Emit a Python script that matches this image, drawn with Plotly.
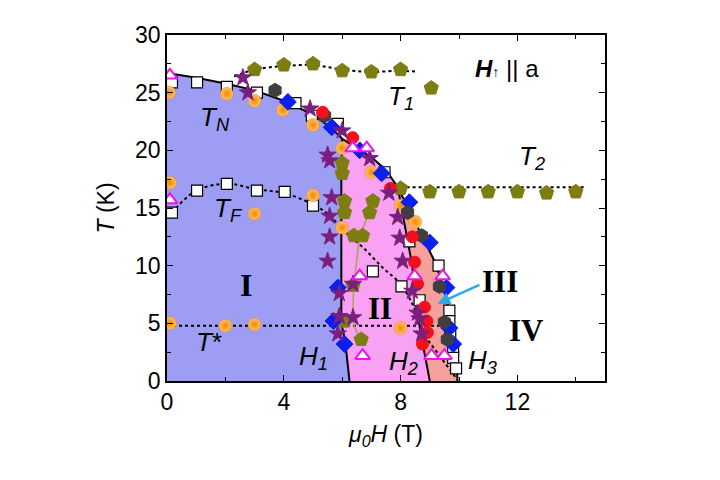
import plotly.graph_objects as go

# ---------------- data ----------------
# phase boundaries (mu0H in T, T in K)
outer_H = [0, 1, 2, 3, 4, 5, 5.6, 6.0, 6.5, 7.0, 7.5, 7.9, 8.3, 8.6, 8.9, 9.2, 9.5, 9.75, 9.9, 9.95]
outer_T = [26.7, 26.3, 25.8, 25.2, 24.3, 23.1, 22.0, 21.0, 20.2, 19.4, 18.3, 16.8, 14.8, 13.3, 11.8, 10.2, 7.9, 5.2, 2.5, 0]
h1_H = [6.0, 5.97, 5.97, 6.1, 6.25]
h1_T = [21.0, 18.0, 5.0, 3.5, 0]
h2_H = [7.9, 8.1, 8.3, 8.4, 8.5, 8.7, 9.0]
h2_T = [16.8, 14.2, 11.3, 10.0, 7.0, 4.0, 0]

# dotted guide lines
t1_H = [2.3, 3.0, 4.0, 5.0, 6.0, 7.0, 8.0, 8.6]
t1_T = [26.4, 27.0, 27.3, 27.4, 27.0, 26.8, 26.9, 26.8]
t2_H = [8.0, 14.3]
t2_T = [16.8, 16.8]
tf_H = [0.17, 1.0, 2.05, 3.1, 4.0, 5.0, 5.5, 6.15, 6.7, 7.4, 8.0, 8.4, 8.55]
tf_T = [14.6, 16.5, 17.1, 16.6, 16.3, 15.3, 14.5, 12.8, 11.6, 9.8, 8.4, 6.7, 5.8]
tstar_H = [0, 9.8]
tstar_T = [4.8, 4.8]
t3_H = [8.95, 9.95]
t3_T = [3.5, 0.1]
olive_line_H = [7.0, 6.6, 6.4, 6.35, 6.6]
olive_line_T = [15.1, 12.6, 8.4, 5.2, 3.6]

# marker series
sq_H = [0.17, 1.03, 2.05, 3.08, 4.4, 4.96, 5.85, 7.45, 0.17, 1.03, 2.05, 3.08, 4.03, 5.0,
        7.05, 8.03, 8.3, 8.65, 9.3, 9.67, 9.67, 9.7, 9.8, 9.8, 9.9]
sq_T = [25.9, 25.9, 25.5, 25.0, 24.1, 23.0, 22.3, 18.1, 14.6, 16.5, 17.1, 16.5, 16.4, 15.2,
        9.5, 8.2, 12.1, 7.0, 10.0, 6.1, 5.2, 4.1, 2.9, 2.0, 1.1]
or_H = [0.07, 0.1, 0.1, 2.05, 3.0, 3.97, 5.0, 6.0, 7.0, 3.0, 5.0, 6.0, 2.0, 3.0, 8.0, 8.0, 8.5]
or_T = [25.0, 17.2, 5.0, 24.9, 24.3, 23.5, 22.2, 20.2, 18.1, 14.5, 16.1, 13.3, 4.8, 4.9, 4.6, 15.2, 13.8]
st_H = [2.6, 2.77, 4.9, 6.0, 5.5, 5.57, 6.94, 7.6, 5.64, 5.57, 5.57, 5.5, 5.9, 5.9, 6.37, 5.85, 6.37,
        7.9, 7.97, 8.07, 8.4, 8.58, 8.65, 8.72]
st_T = [26.3, 25.0, 23.6, 21.7, 19.6, 19.1, 19.3, 16.3, 15.9, 14.3, 12.5, 10.4, 7.6, 5.6, 5.5, 4.1, 8.4,
        14.2, 12.4, 10.4, 7.8, 5.9, 5.4, 4.1]
pe_H = [6.0, 6.0, 6.08, 6.08, 7.05, 6.94, 6.4, 6.7, 6.37, 6.08, 6.65]
pe_T = [18.9, 18.0, 15.6, 14.6, 15.6, 14.6, 12.6, 12.6, 8.3, 5.2, 3.6]
t1p_H = [3.0, 4.0, 5.0, 6.0, 7.0, 8.0, 9.05]
t1p_T = [27.0, 27.4, 27.5, 26.9, 26.8, 27.0, 25.4]
t2p_H = [8.0, 9.0, 10.0, 11.0, 12.0, 13.0, 14.0]
t2p_T = [16.7, 16.4, 16.4, 16.4, 16.4, 16.3, 16.4]
di_H = [4.14, 5.64, 6.6, 7.35, 8.3, 9.0, 5.85, 5.7, 6.08, 9.57, 9.67, 9.8]
di_T = [24.2, 22.0, 20.0, 18.0, 15.5, 12.0, 8.1, 5.2, 3.2, 8.1, 4.6, 3.2]
hx_H = [3.7, 5.4, 8.24, 8.72, 9.33, 9.5, 9.6]
hx_T = [25.2, 23.0, 14.6, 12.6, 8.2, 5.1, 3.6]
rd_H = [5.33, 6.36, 7.65, 8.4, 8.48, 8.58, 8.82, 8.9, 8.92, 8.75]
rd_T = [23.3, 21.1, 16.7, 12.5, 10.3, 8.4, 6.4, 5.2, 4.2, 3.2]
tr_H = [0.1, 0.1, 6.36, 6.84, 6.6, 6.7, 8.48, 9.44, 9.06, 9.5]
tr_T = [26.5, 15.7, 20.2, 20.2, 9.1, 2.2, 9.1, 9.1, 2.2, 2.2]

x_ticks = [0, 4, 8, 12]
y_ticks = [0, 5, 10, 15, 20, 25, 30]

# ---------------- figure ----------------
i6 = outer_H.index(6.0)
i79 = outer_H.index(7.9)

reg1_x = [0] + outer_H[:i6 + 1] + h1_H[1:] + [0]
reg1_y = [0] + outer_T[:i6 + 1] + h1_T[1:] + [0]
reg2_x = outer_H[i6:i79 + 1] + h2_H[1:] + h1_H[::-1]
reg2_y = outer_T[i6:i79 + 1] + h2_T[1:] + h1_T[::-1]
reg3_x = h2_H + outer_H[i79:][::-1]
reg3_y = h2_T + outer_T[i79:][::-1]

fig = go.Figure()
for rx, ry, col in [(reg1_x, reg1_y, "#9D9DF3"), (reg2_x, reg2_y, "#F9A2F3"), (reg3_x, reg3_y, "#F6A09E")]:
    fig.add_trace(go.Scatter(x=rx, y=ry, fill="toself", fillcolor=col, mode="none",
                             hoverinfo="skip", showlegend=False))

for lx, ly in [(outer_H, outer_T), (h1_H, h1_T), (h2_H, h2_T)]:
    fig.add_trace(go.Scatter(x=lx, y=ly, mode="lines", line=dict(color="black", width=2),
                             showlegend=False))

for lx, ly in [(t1_H, t1_T), (t2_H, t2_T), (tf_H, tf_T), (tstar_H, tstar_T), (t3_H, t3_T)]:
    fig.add_trace(go.Scatter(x=lx, y=ly, mode="lines", line=dict(color="black", width=2, dash="dot"),
                             line_shape="spline", showlegend=False))

fig.add_trace(go.Scatter(x=olive_line_H, y=olive_line_T, mode="lines",
                         line=dict(color="#A8A060", width=1.5), showlegend=False))


def mk(x, y, symbol, size, color, lc, lw=1, grad=None):
    m = dict(symbol=symbol, size=size, color=color, line=dict(color=lc, width=lw))
    if grad:
        m["gradient"] = dict(type="radial", color=grad)
    fig.add_trace(go.Scatter(x=x, y=y, mode="markers", marker=m, showlegend=False))


mk(sq_H, sq_T, "square", 11, "white", "black", 1.2)
mk(or_H, or_T, "circle", 13, "#FDC070", "#EE8000", 0.5, grad="#F28A00")
mk(pe_H, pe_T, "pentagon", 15, "#7E7D12", "#7E7D12")
mk(t1p_H, t1p_T, "pentagon", 15, "#7E7D12", "#7E7D12")
mk(t2p_H, t2p_T, "pentagon", 15, "#7E7D12", "#7E7D12")
mk(di_H, di_T, "diamond", 13, "#0A1EF0", "#0A1EF0")
mk(hx_H, hx_T, "hexagon", 14, "#3F3F3F", "#3F3F3F")
mk(rd_H, rd_T, "circle", 12, "#F4101A", "#F4101A")
mk(st_H, st_T, "star", 13, "#7B1F7E", "#7B1F7E")
mk(tr_H, tr_T, "triangle-up", 13, "white", "#F010F0", 2)

TXT = "Liberation Sans, Arial, sans-serif"
SER = "Liberation Serif, Times New Roman, serif"


def lab(x, y, text, size=26, family=TXT, color="black"):
    fig.add_annotation(x=x, y=y, text=text, showarrow=False, font=dict(family=family, size=size, color=color))


lab(1.64, 22.8, "<i>T</i><sub><i>N</i></sub>")
lab(2.1, 14.9, "<i>T</i><sub><i>F</i></sub>")
lab(1.44, 3.4, "<i>T</i>*")
lab(8.0, 24.6, "<i>T</i><sub><i>1</i></sub>")
lab(12.5, 19.4, "<i>T</i><sub><i>2</i></sub>")
lab(5.0, 2.0, "<i>H</i><sub><i>1</i></sub>")
lab(8.1, 1.6, "<i>H</i><sub><i>2</i></sub>")
lab(10.8, 1.7, "<i>H</i><sub><i>3</i></sub>")
lab(2.7, 8.3, "<b>I</b>", 32, SER)
lab(7.3, 6.3, "<b>II</b>", 31, SER)
lab(11.4, 8.6, "<b>III</b>", 31, SER)
lab(12.3, 4.4, "<b>IV</b>", 31, SER)
lab(11.65, 27.1, "<b><i>H</i></b><span style='font-size:14px'>↑</span> || a", 24)

fig.add_annotation(x=9.27, y=6.7, ax=10.75, ay=8.4, axref="x", ayref="y", xref="x", yref="y",
                   text="", showarrow=True, arrowhead=2, arrowsize=1, arrowwidth=2.5,
                   arrowcolor="#2DAAE6")

axis_common = dict(showline=True, linecolor="black", linewidth=1.5, mirror="ticks",
                   ticks="inside", ticklen=6, tickwidth=1.2, tickcolor="black",
                   showgrid=False, zeroline=False, automargin=False,
                   tickfont=dict(family=TXT, size=23, color="black"))

fig.update_xaxes(range=[0, 15], tickvals=x_ticks,
                 minor=dict(dtick=2, tick0=0, ticks="inside", ticklen=4, tickcolor="black"),
                 title=dict(text="<i>μ</i><sub><i>0</i></sub><i>H</i> (T)",
                            font=dict(family=TXT, size=23, color="black"), standoff=12),
                 **axis_common)
fig.update_yaxes(range=[0, 30], tickvals=y_ticks,
                 minor=dict(dtick=2.5, tick0=0, ticks="inside", ticklen=4, tickcolor="black"),
                 title=dict(text="<i>T</i> (K)", font=dict(family=TXT, size=23, color="black"), standoff=14),
                 **axis_common)

# the page body adds an 8 px offset; margins compensate so the plot area lands at x 167-605, y 35-381
fig.update_layout(width=720, height=480, margin=dict(l=159, r=123, t=27, b=107),
                  paper_bgcolor="white", plot_bgcolor="white", showlegend=False)

fig.write_html("out.html")
